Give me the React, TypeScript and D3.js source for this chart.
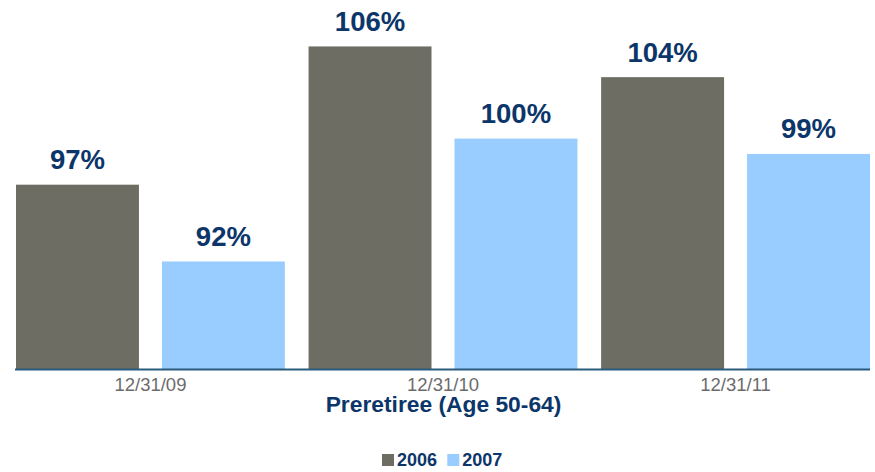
import React from "react";
import * as d3 from "d3";

const categories = ["12/31/09", "12/31/10", "12/31/11"];
const seriesNames = ["2006", "2007"];
const values2006 = [97, 106, 104];
const values2007 = [92, 100, 99];
const colors = ["#6d6d64", "#99ccff"];
const xTitle = "Preretiree (Age 50-64)";

const W = 875;
const H = 472;
const FONT = "'Liberation Sans', Arial, sans-serif";
const NAVY = "#0c3669";

export default function App() {
  const baseY = 369;
  const x0 = d3.scaleBand<string>().domain(categories).range([16, 870]).paddingInner(0.081).paddingOuter(0);
  const x1 = d3.scaleBand<string>().domain(seriesNames).range([0, x0.bandwidth()]).paddingInner(0.1575).paddingOuter(0);
  const y = d3.scaleLinear().domain([85, 106]).range([baseY, baseY - 21 * 15.36]);
  const seriesVals = [values2006, values2007];

  return (
    <svg width={W} height={H} style={{ position: "fixed", left: 0, top: 0, background: "#fff" }} fontFamily={FONT}>
      <rect width={W} height={H} fill="#fff" />
      {categories.map((c, ci) => (
        <g key={c} transform={`translate(${x0(c)},0)`}>
          {seriesNames.map((s, si) => {
            const v = seriesVals[si][ci];
            const bx = x1(s)!;
            return (
              <g key={s}>
                <rect x={bx} y={y(v)} width={x1.bandwidth()} height={baseY - y(v)} fill={colors[si]} />
                <text
                  x={bx + x1.bandwidth() / 2}
                  y={y(v) - 15.5}
                  textAnchor="middle"
                  fontWeight="bold"
                  fontSize={27.5}
                  fill={NAVY}
                >
                  {`${v}%`}
                </text>
              </g>
            );
          })}
          <text x={x0.bandwidth() / 2} y={391} textAnchor="middle" fontSize={18.5} fill="#6b6b6b">
            {c}
          </text>
        </g>
      ))}
      <line x1={15} x2={870} y1={baseY + 0.5} y2={baseY + 0.5} stroke="#2a5a7c" strokeWidth={2} />
      <text x={443.5} y={412} textAnchor="middle" fontWeight="bold" fontSize={22.8} fill={NAVY}>
        {xTitle}
      </text>
      {seriesNames.map((s, i) => {
        const lx = 382 + i * 65.3;
        return (
          <g key={s}>
            <rect x={lx} y={454} width={12} height={12} fill={colors[i]} />
            <text x={lx + 15} y={466} fontWeight="bold" fontSize={18} fill={NAVY}>
              {s}
            </text>
          </g>
        );
      })}
    </svg>
  );
}
